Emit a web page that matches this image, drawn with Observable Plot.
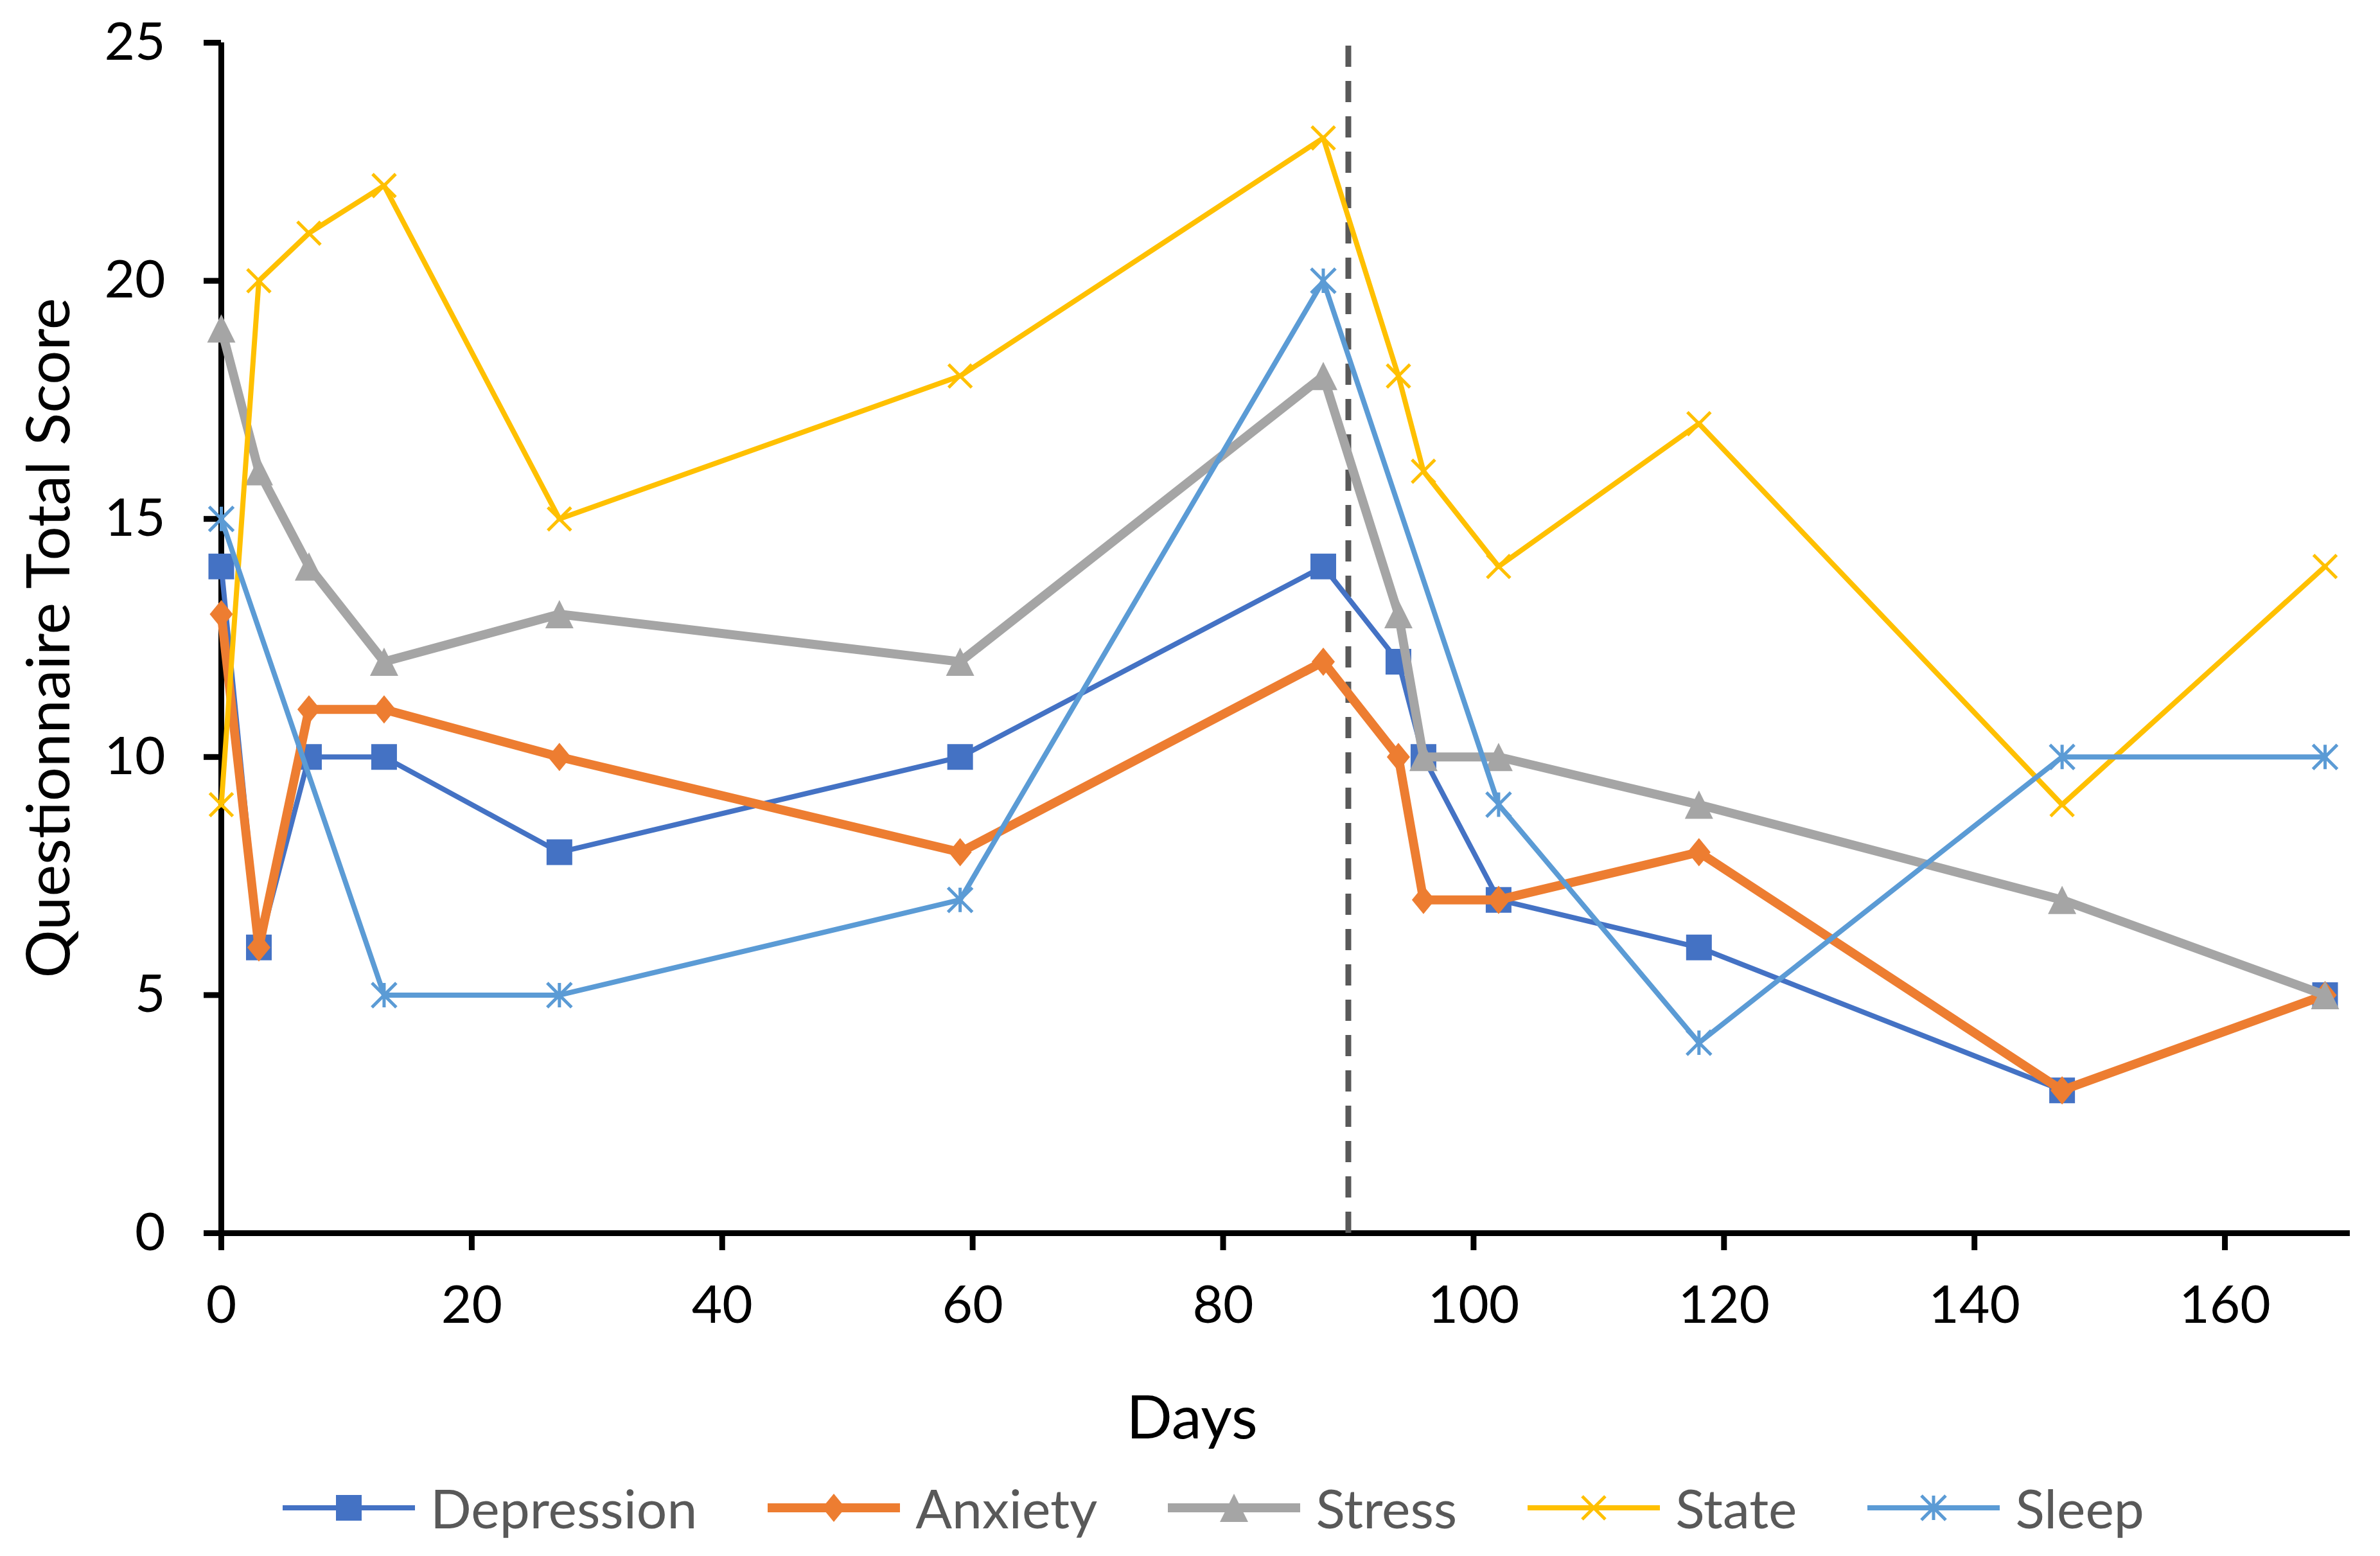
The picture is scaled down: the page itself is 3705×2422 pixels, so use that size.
<!DOCTYPE html>
<html>
<head>
<meta charset="utf-8">
<script src="https://cdn.jsdelivr.net/npm/d3@7"></script>
<script src="https://cdn.jsdelivr.net/npm/@observablehq/plot@0.6"></script>
<style>
  html, body { margin: 0; padding: 0; background: #fff; }
  body { width: 3705px; height: 2422px; overflow: hidden; font-family: Lato, "Open Sans", sans-serif; }
  #legend { display: flex; align-items: center; height: 114px; padding-left: 440px; }
  .item { display: flex; align-items: center; margin-right: 110px; }
  .item svg { display: block; }
  .item span { font-size: 84px; color: #595959; margin-left: 24px; line-height: 1; }
</style>
</head>
<body>
<div id="chart"></div>
<div id="legend"></div>
<script>
// ---- data ----
const days = [0, 3, 7, 13, 27, 59, 88, 94, 96, 102, 118, 147, 168];
const depression = [14, 6, 10, 10, 8, 10, 14, 12, 10, 7, 6, 3, 5];
const anxiety    = [13, 6, 11, 11, 10, 8, 12, 10, 7, 7, 8, 3, 5];
const stress     = [19, 16, 14, 12, 13, 12, 18, 13, 10, 10, 9, 7, 5];
const state      = [9, 20, 21, 22, 15, 18, 23, 18, 16, 14, 17, 9, 14];
const sleepDays  = [0, 13, 27, 59, 88, 102, 118, 147, 168];
const sleep      = [15, 5, 5, 7, 20, 9, 4, 10, 10];
const seriesNames = ["Depression", "Anxiety", "Stress", "State", "Sleep"];
const xTicks = [0, 20, 40, 60, 80, 100, 120, 140, 160];
const yTicks = [0, 5, 10, 15, 20, 25];
const xDomain = [0, 170];
const yDomain = [0, 25];
const interventionDay = 90;
const xLabel = "Days";
const yLabel = "Questionnaire Total Score";

// ---- custom marker shapes (r = half extent) ----
const rOf = (size) => Math.sqrt(size / Math.PI);
const symSquare = {draw(c, size) { const r = rOf(size); c.rect(-r, -r, 2 * r, 2 * r); }};
const symDiamond = {draw(c, size) { const r = rOf(size); const w = r * 0.82;
  c.moveTo(0, -r); c.lineTo(w, 0); c.lineTo(0, r); c.lineTo(-w, 0); c.closePath(); }};
const symTriangle = {draw(c, size) { const r = rOf(size);
  c.moveTo(0, -r); c.lineTo(r, r); c.lineTo(-r, r); c.closePath(); }};
const symTimes = {draw(c, size) { const r = rOf(size);
  c.moveTo(-r, -r); c.lineTo(r, r); c.moveTo(-r, r); c.lineTo(r, -r); }};
const symStar = {draw(c, size) { const r = rOf(size);
  c.moveTo(-r, -r); c.lineTo(r, r); c.moveTo(-r, r); c.lineTo(r, -r); c.moveTo(0, -r); c.lineTo(0, r); }};

// ---- style per series ----
const styles = [
  {color: "#4472C4", width: 8,  symbol: symSquare,   r: 20, filled: true},
  {color: "#ED7D31", width: 14, symbol: symDiamond,  r: 22, filled: true},
  {color: "#A5A5A5", width: 14, symbol: symTriangle, r: 22, filled: true},
  {color: "#FFC000", width: 8,  symbol: symTimes,    r: 18, filled: false},
  {color: "#5B9BD5", width: 8,  symbol: symStar,     r: 19, filled: false}
];
const xs = [days, days, days, days, sleepDays];
const ys = [depression, anxiety, stress, state, sleep];

const seriesMarks = seriesNames.flatMap((name, k) => {
  const data = xs[k].map((d, i) => ({day: d, value: ys[k][i], series: name}));
  const s = styles[k];
  return [
    Plot.line(data, {x: "day", y: "value", stroke: s.color, strokeWidth: s.width, strokeLinejoin: "round", strokeLinecap: "round"}),
    Plot.dot(data, {x: "day", y: "value", symbol: s.symbol, r: s.r,
      fill: s.filled ? s.color : "none", stroke: s.filled ? "none" : s.color, strokeWidth: s.filled ? 0 : 5})
  ];
});

const chart = Plot.plot({
  width: 3705,
  height: 2290,
  marginLeft: 344,
  marginRight: 47,
  marginTop: 66,
  marginBottom: 371,
  style: {fontFamily: "Lato, 'Open Sans', sans-serif", fontSize: "82px", color: "#000", background: "#fff"},
  x: {domain: xDomain},
  y: {domain: yDomain},
  marks: [
    Plot.axisY({ticks: yTicks, tickSize: 27, tickPadding: 60, strokeWidth: 9, stroke: "#000", fill: "#000", fontSize: 82, label: null}),
    Plot.axisX({ticks: xTicks, tickSize: 27, tickPadding: 54, strokeWidth: 9, stroke: "#000", fill: "#000", fontSize: 82, label: null}),
    Plot.ruleX([xDomain[0]], {stroke: "#000", strokeWidth: 9}),
    Plot.ruleY([yDomain[0]], {stroke: "#000", strokeWidth: 9}),
    Plot.ruleX([interventionDay], {y1: yDomain[0], y2: yDomain[1], stroke: "#595959", strokeWidth: 9, strokeDasharray: "33,22"}),
    ...seriesMarks,
    Plot.text([yLabel], {frameAnchor: "left", textAnchor: "middle", rotate: -90, dx: -303, lineAnchor: "top", fontSize: 94, fill: "#000"}),
    Plot.text([xLabel], {frameAnchor: "bottom", textAnchor: "middle", dx: -146, dy: 319, lineAnchor: "bottom", fontSize: 94, fill: "#000"})
  ]
});
document.getElementById("chart").appendChild(chart);

// ---- legend ----
const legend = d3.select("#legend");
seriesNames.forEach((name, k) => {
  const s = styles[k];
  const item = legend.append("div").attr("class", "item");
  const svg = item.append("svg").attr("width", 206).attr("height", 60);
  svg.append("line").attr("x1", 0).attr("x2", 206).attr("y1", 30).attr("y2", 30)
    .attr("stroke", s.color).attr("stroke-width", s.width);
  svg.append("path").attr("transform", "translate(103,30)")
    .attr("d", d3.symbol(s.symbol, s.r * s.r * Math.PI)())
    .attr("fill", s.filled ? s.color : "none")
    .attr("stroke", s.filled ? "none" : s.color)
    .attr("stroke-width", s.filled ? 0 : 5);
  item.append("span").text(name);
});
</script>
</body>
</html>
